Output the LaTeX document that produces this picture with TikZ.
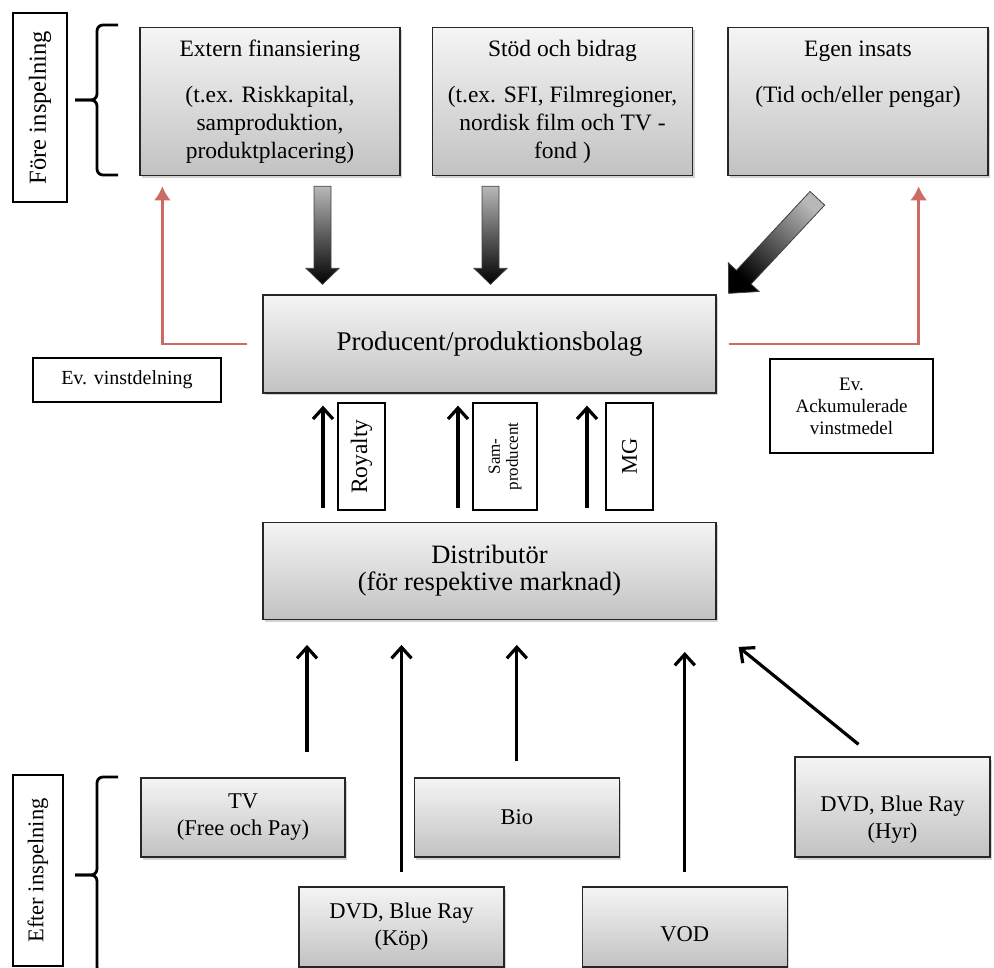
\documentclass[tikz,border=0pt]{standalone}
\usepackage{fontspec}
\setmainfont{Liberation Serif}
\usetikzlibrary{positioning,arrows.meta,shadows,calc}

\definecolor{redline}{RGB}{206,106,100}
\newcommand{\toplines}[1]{\begin{tabular}[t]{@{}c@{}}#1\end{tabular}}

\tikzset{
  box/.style={draw=black!85, line width=1.3pt, top color=black!4, bottom color=black!24,
    drop shadow={shadow xshift=2pt,shadow yshift=-2.5pt,opacity=.35}, align=center, inner sep=0pt},
  topbox/.style={box, minimum width=260pt, text height=29pt, text depth=119pt, font=\fontsize{23.5}{28}\selectfont},
  lowbox/.style={box, minimum width=205pt, minimum height=80pt, font=\fontsize{22.5}{27}\selectfont},
  tag/.style={draw, line width=2.6pt, fill=white, align=center, inner sep=0pt},
  arr/.style={line width=3.2pt, -{Straight Barb[length=11pt,width=20pt]}},
  redarr/.style={draw=redline, line width=2.8pt, -{Latex[length=14pt,width=17pt]}},
  brc/.style={line width=2.8pt, rounded corners=6pt},
  blockshade/.style={draw=black!75, line width=.8pt, top color=black!28, bottom color=black},
  blockarrow/.pic={\path[blockshade] (-8.5,0) -- (8.5,0) -- (8.5,82) -- (16.5,82) -- (0,98) -- (-16.5,82) -- (-8.5,82) -- cycle;}
}

\begin{document}
\begin{tikzpicture}[x=1pt,y=-1pt,node distance=10pt and 10pt]
\useasboundingbox (0,0) rectangle (994,968);
% before shooting
\node[topbox, anchor=north] (ext) at (270,27) {\toplines{Extern finansiering\\[18pt](t.ex. Riskkapital,\\samproduktion,\\produktplacering)}};
\node[topbox, anchor=north] (stod) at (562.5,27) {\toplines{Stöd och bidrag\\[18pt](t.ex. SFI, Filmregioner,\\nordisk film och TV -\\fond )}};
\node[topbox, anchor=north] (egen) at (858,27) {\toplines{Egen insats\\[18pt](Tid och/eller pengar)}};
\node[tag, rotate=90, minimum width=189pt, minimum height=54pt, font=\fontsize{24.5}{26}\selectfont] (fore) at (40,107.5) {Före inspelning};
\draw[brc] (118,25) -| (97,100) -- (75,100) ;   \draw[brc] (118,175) -| (97,100) -- (75,100) ;

% producer and distributor
\node[box, minimum width=453pt, minimum height=98pt, font=\fontsize{27}{29}\selectfont] (prod) at (489.5,344) {Producent/produktionsbolag};
\node[box, below=128pt of prod, minimum width=453pt, minimum height=97pt, font=\fontsize{26.5}{27}\selectfont] (dist) {Distributör\\(för respektive marknad)};
\node[tag, minimum width=188pt, minimum height=44pt, font=\fontsize{20}{22}\selectfont] (vinst) at (127,380) {Ev. vinstdelning};
\node[tag, minimum width=163pt, minimum height=94pt, font=\fontsize{19}{22}\selectfont] (ackum) at (851.5,406) {Ev.\\Ackumulerade\\vinstmedel};
\node[tag, rotate=90, minimum width=107pt, minimum height=47pt, font=\fontsize{23.5}{25}\selectfont] (roy) at (361.5,456.5) {Royalty};
\node[tag, rotate=90, minimum width=107pt, minimum height=64pt, font=\fontsize{17}{18}\selectfont] (sam) at (505,456.5) {Sam-\\producent};
\node[tag, rotate=90, minimum width=107pt, minimum height=47pt, font=\fontsize{22.5}{24}\selectfont] (mg) at (629.5,456.5) {MG};

% after shooting
\node[lowbox, minimum width=204pt, minimum height=79pt] (tv) at (243,817.5) {TV\\(Free och Pay)};
\node[lowbox, minimum height=79pt, right=68pt of tv] (bio) {Bio};
\node[lowbox] (kop) at (401.5,927) {DVD, Blue Ray\\(Köp)};
\node[lowbox, right=77pt of kop, minimum height=0pt, text height=54pt, text depth=26pt] (vod) {VOD};
\node[lowbox, minimum width=195pt, minimum height=0pt, text height=81pt, text depth=19pt] (hyr) at (892.5,807) {DVD, Blue Ray\\(Hyr)};
\node[tag, rotate=90, minimum width=191pt, minimum height=50pt, font=\fontsize{22.5}{24}\selectfont] (efter) at (38,870.5) {Efter inspelning};
\draw[brc] (118,777) -| (97,875) -- (75,875) ;   \draw[brc] (118,973) -| (97,875) -- (75,875) ;

% money in
\pic at ([xshift=52.5,yshift=-10]ext.south) {blockarrow};
\pic at ([xshift=-72,yshift=-10]stod.south) {blockarrow};
\coordinate (dgA) at ([xshift=90,yshift=-22]egen.south west);
\coordinate (dgB) at ([xshift=12,yshift=1]prod.north east);
\coordinate (dgH) at ($(dgA)!0.83!(dgB)$);
\path[blockshade, shading angle=-43] ($(dgA)!10pt!90:(dgB)$) -- ($(dgH)!10pt!90:(dgB)$) -- ($(dgH)!21pt!90:(dgB)$) -- (dgB)
  -- ($(dgH)!21pt!-90:(dgB)$) -- ($(dgH)!10pt!-90:(dgB)$) -- ($(dgA)!10pt!-90:(dgB)$) -- cycle;

% profit back
\draw[redarr, shorten <=15pt, shorten >=10pt] (prod.west) -| ([xshift=23]ext.south west) ;
\draw[redarr, shorten <=12pt, shorten >=10pt] (prod.east) -| ([xshift=-70]egen.south east) ;

\draw[arr, shorten <=14pt, shorten >=12pt] ($(dist.north)+(-166.5,0)$) -- ($(prod.south)+(-166.5,0)$) ;
\draw[arr, shorten <=14pt, shorten >=12pt] ($(dist.north)+(-31.5,0)$) -- ($(prod.south)+(-31.5,0)$) ;
\draw[arr, shorten <=14pt, shorten >=12pt] ($(dist.north)+(97.5,0)$) -- ($(prod.south)+(97.5,0)$) ;

\draw[arr, shorten <=25pt, shorten >=25pt] ($(tv.north)+(64,0)$) -- ($(tv.north |- dist.south)+(64,0)$) ;
\draw[arr, shorten <=14pt, shorten >=25pt] (kop.north) -- (kop.north |- dist.south) ;
\draw[arr, shorten <=16pt, shorten >=25pt] (bio.north) -- (bio.north |- dist.south) ;
\draw[arr, shorten <=14pt, shorten >=32pt] (vod.north) -- (vod.north |- dist.south) ;
\draw[arr] ([xshift=-34,yshift=12]hyr.north) -- ([xshift=22,yshift=-27]dist.south east) ;
\end{tikzpicture}
\end{document}
